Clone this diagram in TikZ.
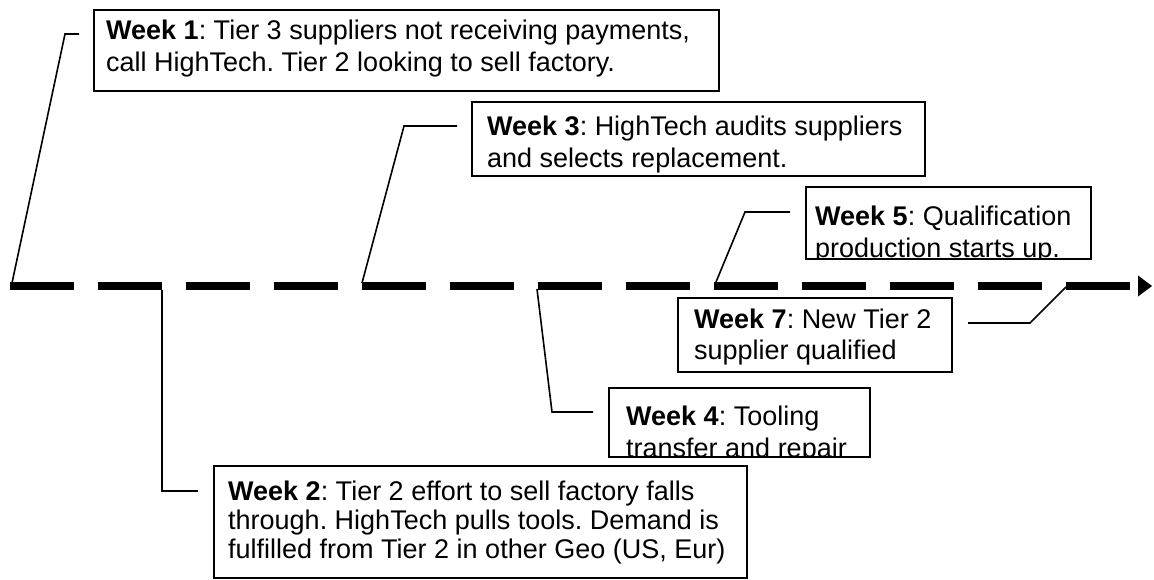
\documentclass[tikz,border=0pt]{standalone}
\usepackage{fontspec}
\setmainfont{Liberation Sans}
\newcommand\linesB[2]{\vtop{\hbox{#1}\hbox{#2}}}
\newcommand\linesC[3]{\vtop{\hbox{#1}\hbox{#2}\hbox{#3}}}
\frenchspacing
\begin{document}
\begin{tikzpicture}[x=1pt,y=-1pt,
  box/.style={draw, line width=1.8pt, rectangle, inner sep=0pt, outer sep=0pt, anchor=north west, fill=white},
  conn/.style={line width=1.6pt, line join=miter},
  txt/.style={inner sep=0pt, anchor=base west, font=\fontsize{27}{31}\selectfont\frenchspacing},
  tight/.style={font=\fontsize{27}{29}\selectfont\frenchspacing},
  loose/.style={font=\fontsize{27}{32}\selectfont\frenchspacing},
  timeline/.style={line width=8pt, dash pattern=on 64pt off 24pt}
]
\useasboundingbox (0,0) rectangle (1154,579);

% timeline
\coordinate (ts) at (10,286);
\coordinate (te) at (1130,286);
\coordinate (ah) at (1138,286);
\draw[timeline] (ts) -- (te);
\fill (ah) ++(0,-10.5) -- ++(14,10.5) -- ++(-14,10.5) -- cycle;

% boxes
\node[box, minimum width=625pt, minimum height=81pt] (b1) at (94,10) {};
\node[box, minimum width=533pt, minimum height=112pt] (b2) at (214,466) {};
\node[box, minimum width=453pt, minimum height=74pt] (b3) at (472,102) {};
\node[box, minimum width=261pt, minimum height=69pt] (b4) at (609,388) {};
\node[box, minimum width=285pt, minimum height=72pt] (b5) at (806,187) {};
\node[box, minimum width=274pt, minimum height=74pt] (b7) at (678,298) {};

% texts
\node[txt,loose] (t1) at (106,39.5) {\linesB{\textbf{Week 1}: Tier 3 suppliers not receiving payments,}{call HighTech. Tier 2 looking to sell factory.}};
\node[txt,tight] (t2) at (228,500) {\linesC{\textbf{Week 2}: Tier 2 effort to sell factory falls}{through. HighTech pulls tools. Demand is}{fulfilled from Tier 2 in other Geo (US, Eur)}};
\node[txt,loose] (t3) at (487,135) {\linesB{\textbf{Week 3}: HighTech audits suppliers}{and selects replacement.}};
\begin{scope}
  \clip ([shift={(0.9pt,-0.9pt)}]b4.north west) rectangle ([shift={(-0.9pt,0.9pt)}]b4.south east);
  \node[txt,loose] (t4) at (626,425) {\linesB{\textbf{Week 4}: Tooling}{transfer and repair}};
\end{scope}
\begin{scope}
  \clip ([shift={(0.9pt,-0.9pt)}]b5.north west) rectangle ([shift={(-0.9pt,0.9pt)}]b5.south east);
  \node[txt,loose] (t5) at (815,225) {\linesB{\textbf{Week 5}: Qualification}{production starts up.}};
\end{scope}
\node[txt] (t7) at (694,328.5) {\linesB{\textbf{Week 7}: New Tier 2}{supplier qualified}};

% connectors
\coordinate (p1) at (12,283);  \coordinate (k1) at (65,34);   \coordinate (e1) at (79,34);
\coordinate (p2) at (162,290); \coordinate (k2) at (162,491); \coordinate (e2) at (198,491);
\coordinate (p3) at (362,283); \coordinate (k3) at (404,126); \coordinate (e3) at (457,126);
\coordinate (p4) at (537,289); \coordinate (k4) at (552,412); \coordinate (e4) at (593,412);
\coordinate (p5) at (716,282); \coordinate (k5) at (745,212); \coordinate (e5) at (790,212);
\coordinate (p7) at (1066,287);\coordinate (k7) at (1030,323); \coordinate (e7) at (968,323);
\draw[conn] (p1) -- (k1) -- (e1);
\draw[conn] (p2) -- (k2) -- (e2);
\draw[conn] (p3) -- (k3) -- (e3);
\draw[conn] (p4) -- (k4) -- (e4);
\draw[conn] (p5) -- (k5) -- (e5);
\draw[conn] (p7) -- (k7) -- (e7);
\end{tikzpicture}
\end{document}
